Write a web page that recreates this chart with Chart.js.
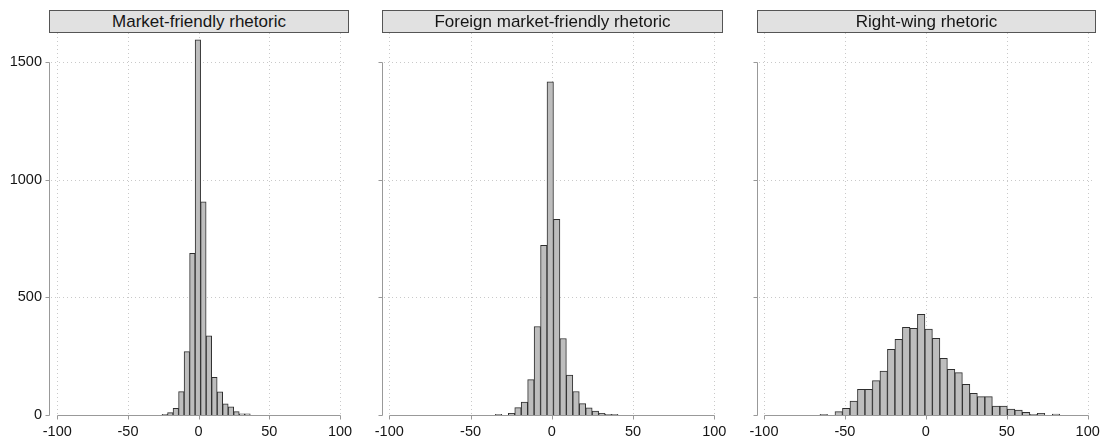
<!DOCTYPE html>
<html>
<head>
<meta charset="utf-8">
<script src="https://cdn.jsdelivr.net/npm/chart.js@4.4.1/dist/chart.umd.min.js"></script>
<style>
  html, body { margin: 0; padding: 0; background: #fff; }
  #wrap { position: relative; width: 1103px; height: 442px; overflow: hidden; }
  canvas { position: absolute; top: 0; }
  .hdr {
    position: absolute; top: 10px; height: 23px; box-sizing: border-box;
    border: 1px solid #555; background: #e1e1e1;
    font: 17px "Liberation Sans", Arial, sans-serif; color: #151515;
    text-align: center; line-height: 21px; white-space: nowrap;
  }
</style>
</head>
<body>
<div id="wrap">
  <canvas id="c1" width="370" height="442" style="left:0px"></canvas>
  <canvas id="c2" width="380" height="442" style="left:350px"></canvas>
  <canvas id="c3" width="373" height="442" style="left:730px"></canvas>
  <div class="hdr" id="h1" style="left:49px;width:300px"></div>
  <div class="hdr" id="h2" style="left:382px;width:341px"></div>
  <div class="hdr" id="h3" style="left:757px;width:339px"></div>
</div>
<script>
// Panel titles
const panelTitles = ['Market-friendly rhetoric', 'Foreign market-friendly rhetoric', 'Right-wing rhetoric'];

// Axis ticks
const xTickValues = [-100, -50, 0, 50, 100];
const xTickLabels = ['-100', '-50', '0', '50', '100'];
const yTickValues = [0, 500, 1000, 1500];
const yTickLabels = ['0', '500', '1000', '1500'];

// Market-friendly rhetoric: bin midpoints and frequencies
const marketBins = [-23.95, -20.05, -16.15, -12.25, -8.35, -4.45, -0.55, 3.35, 7.25, 11.15, 15.05, 18.95, 22.85, 26.75, 30.65, 34.55];
const marketCounts = [3, 10, 28, 99, 269, 687, 1594, 906, 336, 160, 98, 47, 35, 14, 5, 5];

// Foreign market-friendly rhetoric: bin midpoints and frequencies
const foreignBins = [-32.72, -28.75, -24.78, -20.81, -16.84, -12.87, -8.90, -4.93, -0.96, 3.01, 6.98, 10.95, 14.92, 18.89, 22.86, 26.83, 30.80, 34.77, 38.74];
const foreignCounts = [3, 0, 7, 31, 55, 150, 376, 721, 1416, 831, 325, 170, 100, 48, 30, 17, 7, 3, 3];

// Right-wing rhetoric: bin midpoints and frequencies
const rightBins = [-63.09, -58.46, -53.83, -49.20, -44.57, -39.94, -35.31, -30.68, -26.05, -21.42, -16.79, -12.16, -7.53, -2.90, 1.73, 6.36,
                   10.99, 15.62, 20.25, 24.88, 29.51, 34.14, 38.77, 43.40, 48.03, 52.66, 57.29, 61.92, 66.55, 71.18, 75.81, 80.44];
const rightCounts = [3, 0, 14, 28, 59, 109, 109, 146, 187, 279, 321, 372, 368, 428, 365, 326, 241, 194, 180, 130, 92, 78, 78, 38, 38, 25, 21, 11, 3, 7, 0, 4];

const FONT = '"Liberation Sans", Arial, sans-serif';
const AXIS_COLOR = '#999999';
const GRID_COLOR = '#c9c9c9';
const LABEL_COLOR = '#151515';

// Dotted grid behind the bars, axis lines and tick marks in front (Stata-like frame)
const framePlugin = {
  id: 'frame',
  beforeDatasetsDraw(chart) {
    const { ctx, chartArea: a, scales: { x, y } } = chart;
    ctx.save();
    ctx.strokeStyle = GRID_COLOR;
    ctx.lineWidth = 1;
    ctx.setLineDash([1, 3]);
    xTickValues.forEach(v => {
      const px = Math.round(x.getPixelForValue(v)) + 0.5;
      ctx.beginPath(); ctx.moveTo(px, a.top); ctx.lineTo(px, a.bottom); ctx.stroke();
    });
    yTickValues.slice(1).forEach(v => {
      const py = Math.round(y.getPixelForValue(v)) + 0.5;
      ctx.beginPath(); ctx.moveTo(a.left + 2, py); ctx.lineTo(a.right - 2, py); ctx.stroke();
    });
    ctx.restore();
  },
  afterDatasetsDraw(chart) {
    const { ctx, chartArea: a, scales: { x, y } } = chart;
    ctx.save();
    ctx.strokeStyle = AXIS_COLOR;
    ctx.lineWidth = 1;
    const ax = a.left + 0.5;
    const ay = Math.round(y.getPixelForValue(0)) + 0.5;
    // y axis line and ticks
    ctx.beginPath();
    ctx.moveTo(ax, Math.round(y.getPixelForValue(yTickValues[yTickValues.length - 1])) + 0.5);
    ctx.lineTo(ax, ay);
    yTickValues.forEach(v => {
      const py = Math.round(y.getPixelForValue(v)) + 0.5;
      ctx.moveTo(ax - 4, py); ctx.lineTo(ax, py);
    });
    // x axis line and ticks
    ctx.moveTo(Math.round(x.getPixelForValue(xTickValues[0])) + 0.5, ay);
    ctx.lineTo(Math.round(x.getPixelForValue(xTickValues[xTickValues.length - 1])) + 0.5, ay);
    xTickValues.forEach(v => {
      const px = Math.round(x.getPixelForValue(v)) + 0.5;
      ctx.moveTo(px, ay); ctx.lineTo(px, ay + 4);
    });
    ctx.stroke();
    ctx.restore();
  }
};

function makePanel(canvasId, bins, counts, opts) {
  const data = bins.map((b, i) => ({ x: b, y: counts[i] }));
  return new Chart(document.getElementById(canvasId), {
    type: 'bar',
    data: {
      datasets: [{
        data,
        backgroundColor: '#bdbdbd',
        borderColor: '#2e2e2e',
        borderWidth: 1,
        barPercentage: 1,
        categoryPercentage: 1
      }]
    },
    options: {
      responsive: false,
      animation: false,
      events: [],
      layout: { padding: { top: 33, right: opts.padRight, left: 0, bottom: 0 } },
      plugins: { legend: { display: false }, tooltip: { enabled: false } },
      scales: {
        x: {
          type: 'linear',
          offset: false,
          min: opts.xMin,
          max: opts.xMax,
          grid: { display: false, drawTicks: false, offset: false },
          border: { display: false },
          afterBuildTicks: s => { s.ticks = xTickValues.map(v => ({ value: v })); },
          afterFit: s => { s.height = 27; s.paddingLeft = 0; s.paddingRight = 0; },
          ticks: {
            autoSkip: false, maxRotation: 0, padding: 8,
            color: LABEL_COLOR, font: { family: FONT, size: 14.5 },
            callback: (v) => xTickLabels[xTickValues.indexOf(v)]
          }
        },
        y: {
          type: 'linear',
          min: 0,
          max: 1623,
          grid: { display: false, drawTicks: false },
          border: { display: false },
          afterBuildTicks: s => { s.ticks = yTickValues.map(v => ({ value: v })); },
          afterFit: s => { s.width = opts.yWidth; s.paddingTop = 0; s.paddingBottom = 0; },
          ticks: {
            display: opts.showY, padding: 7,
            color: LABEL_COLOR, font: { family: FONT, size: 14.5 },
            callback: (v) => yTickLabels[yTickValues.indexOf(v)]
          }
        }
      }
    },
    plugins: [framePlugin]
  });
}

document.getElementById('h1').textContent = panelTitles[0];
document.getElementById('h2').textContent = panelTitles[1];
document.getElementById('h3').textContent = panelTitles[2];

makePanel('c1', marketBins, marketCounts, { yWidth: 49, padRight: 22, xMin: -105.87, xMax: 105.66, showY: true });
makePanel('c2', foreignBins, foreignCounts, { yWidth: 32, padRight: 8, xMin: -104.49, xMax: 104.74, showY: false });
makePanel('c3', rightBins, rightCounts, { yWidth: 27, padRight: 8, xMin: -104.32, xMax: 104.51, showY: false });
</script>
</body>
</html>
